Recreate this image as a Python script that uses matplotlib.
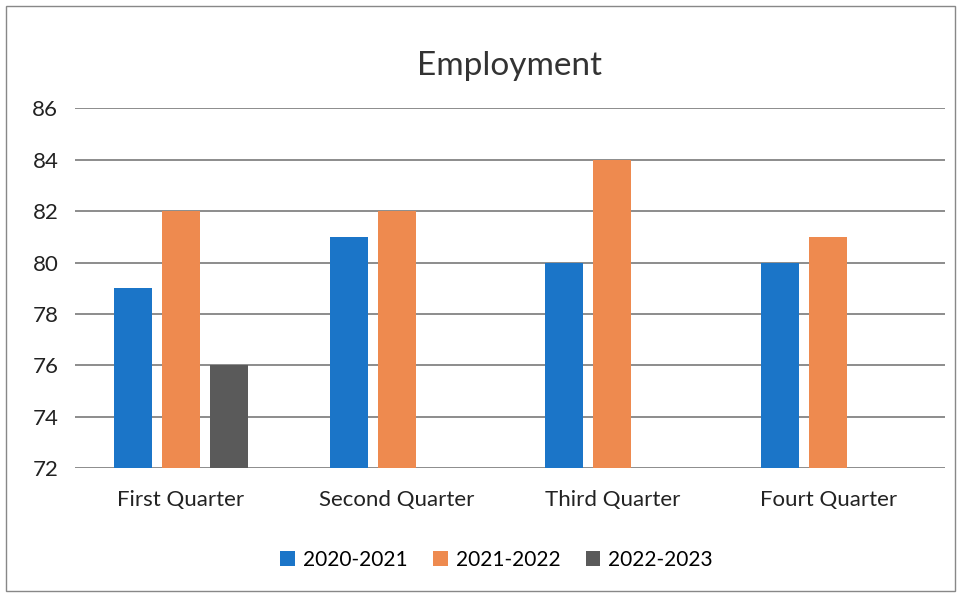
import matplotlib.pyplot as plt
import numpy as np
from matplotlib.patches import Rectangle

# Employment by quarter
quarters = ["First Quarter", "Second Quarter", "Third Quarter", "Fourt Quarter"]
y2020_2021 = [79, 81, 80, 80]
y2021_2022 = [82, 82, 84, 81]
y2022_2023 = [76, np.nan, np.nan, np.nan]
series_names = ["2020-2021", "2021-2022", "2022-2023"]
colors = ["#1b75c8", "#ee8a4f", "#5a5a5a"]

plt.rcParams['font.family'] = ['Lato', 'DejaVu Sans']

fig = plt.figure(figsize=(9.61, 5.98), dpi=100)
ax = fig.add_axes([0.078, 0.217, 0.905, 0.602])

x = np.arange(len(quarters))
width = 0.176
offset = 0.222
base = 72
for i, (vals, name, c) in enumerate(zip([y2020_2021, y2021_2022, y2022_2023], series_names, colors)):
    vals = np.array(vals, dtype=float)
    ax.bar(x + (i - 1) * offset, vals - base, width, bottom=base, color=c, label=name, zorder=3)

ax.set_ylim(72, 86)
ax.set_xlim(-0.49, 3.54)
ax.set_yticks(range(72, 87, 2))
ax.set_xticks(x)
ax.set_xticklabels(quarters, fontsize=16)
ax.tick_params(axis='y', labelsize=16, length=0, pad=12, labelcolor='#222222')
ax.tick_params(axis='x', length=0, pad=16, labelcolor='#222222')
ax.grid(axis='y', color='#6e6e6e', linewidth=1.1, zorder=0)
for s in ax.spines.values():
    s.set_visible(False)

ax.set_title("Employment", fontsize=24, color='#333333', pad=24)

ax.legend(loc='upper center', bbox_to_anchor=(0.485, -0.175), ncol=3, frameon=False,
          fontsize=15, handlelength=0.7, handleheight=0.7, columnspacing=1.2, handletextpad=0.4)

fig.patches.append(Rectangle((0.006, 0.012), 0.988, 0.978, transform=fig.transFigure,
                             fill=False, edgecolor='#888888', linewidth=1.0))

fig.savefig("out.png", dpi=100)
